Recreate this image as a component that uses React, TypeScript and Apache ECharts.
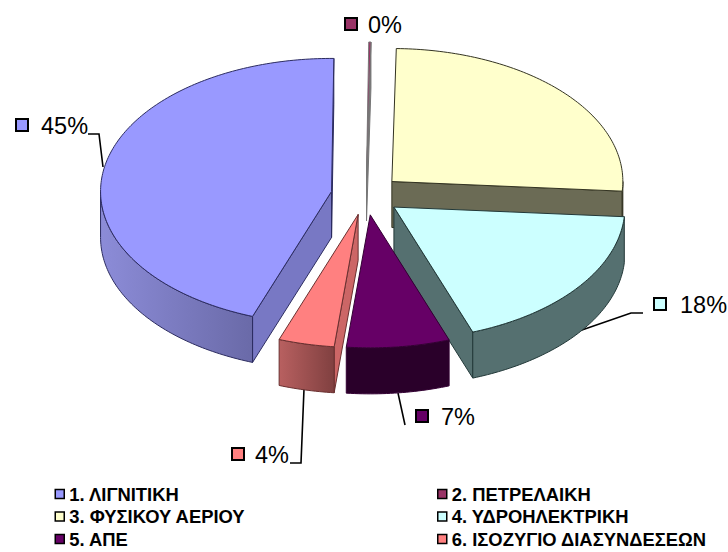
import React, { useEffect, useRef } from "react";
import * as echarts from "echarts";

const categories = ["1. ΛΙΓΝΙΤΙΚΗ", "2. ΠΕΤΡΕΛΑΙΚΗ", "3. ΦΥΣΙΚΟΥ ΑΕΡΙΟΥ", "4. ΥΔΡΟΗΛΕΚΤΡΙΚΗ", "5. ΑΠΕ", "6. ΙΣΟΖΥΓΙΟ ΔΙΑΣΥΝΔΕΣΕΩΝ"];
const shares = [44.6, 0.15, 25.85, 18.3, 7.2, 3.9];
const percentLabels = ["45%", "0%", "26%", "18%", "7%", "4%"];
const topColors = ["#9999ff", "#993366", "#ffffcc", "#ccffff", "#660066", "#ff8080"];
const cutColors = ["#7878c4", "#777777", "#6b6b55", "#557070", "#2a002a", "#cc6666"];
const wallFrom = ["#8c8cd8", "#777777", "#6b6b55", "#557070", "#2a002a", "#b86060"];
const wallTo = ["#6a6aa8", "#777777", "#6b6b55", "#557070", "#2a002a", "#804040"];
const edgeColors = ["#2c2c60", "#777777", "#333322", "#223838", "#330033", "#6a3030"];

const START = 200, CX = 366, CY = 195, RX = 231, RY = 133, DEPTH = 46, EX = 35, EY = 20;
const FONT = "'Liberation Sans', Arial, sans-serif";
const total = shares.reduce((a, b) => a + b, 0);

const labelMarkers = [[22, 125], [351, 24], [501, 116], [660, 304], [422, 416], [238, 454]];
const labelTextX = [41, 368, 520, 680, 441, 255];
const leaders = [
  [[88, 134], [99, 134], [103, 167]],
  [],
  [],
  [[643, 313], [631, 313], [579, 331]],
  [[405, 425], [398, 393]],
  [[290, 463], [301, 463], [304, 389]],
];

const rad = (d: number) => (d * Math.PI) / 180;

function makeItem(index: number) {
  return (_params: any, _api: any) => {
    let a0 = START;
    for (let i = 0; i < index; i++) a0 += (shares[i] / total) * 360;
    const a1 = a0 + (shares[index] / total) * 360;
    const mid = (a0 + a1) / 2;
    const ax = CX + EX * Math.sin(rad(mid));
    const ay = CY - EY * Math.cos(rad(mid));
    const pt = (a: number, d = 0) => [ax + RX * Math.sin(rad(a)), ay - RY * Math.cos(rad(a)) + d];
    const arc = (from: number, to: number, d = 0) => {
      const out: number[][] = [];
      const n = Math.max(1, Math.ceil(Math.abs(to - from)));
      for (let k = 0; k <= n; k++) out.push(pt(from + ((to - from) * k) / n, d));
      return out;
    };
    const stroke = { stroke: edgeColors[index], lineWidth: 1, lineJoin: "round" };
    const children: any[] = [];
    const cut = (a: number) => {
      const p = pt(a);
      children.push({
        type: "polygon",
        shape: { points: [[ax, ay], p, [p[0], p[1] + DEPTH], [ax, ay + DEPTH]] },
        style: { fill: cutColors[index], ...stroke },
      });
    };
    const norm = (a: number) => ((a % 360) + 360) % 360;
    if (norm(a0) > 180) cut(a0);
    if (norm(a1) < 180) cut(a1);
    // outer wall: the part of the rim that faces the viewer
    for (const shift of [0, 360, -360]) {
      const w0 = Math.max(a0 + shift, 90);
      const w1 = Math.min(a1 + shift, 270);
      if (w1 > w0) {
        const pts = [...arc(w0, w1), ...arc(w1, w0, DEPTH)];
        children.push({
          type: "polygon",
          shape: { points: pts },
          style: {
            fill: new echarts.graphic.LinearGradient(0, 0, 1, 0, [
              { offset: 0, color: wallFrom[index] },
              { offset: 1, color: wallTo[index] },
            ]),
            ...stroke,
          },
        });
      }
    }
    children.push({
      type: "polygon",
      shape: { points: [[ax, ay], ...arc(a0, a1)] },
      style: { fill: topColors[index], ...stroke },
    });
    return { type: "group", children };
  };
}

function labelGraphics() {
  const out: any[] = [];
  percentLabels.forEach((t, i) => {
    const [mx, my] = labelMarkers[i];
    out.push({
      type: "rect",
      shape: { x: mx - 6, y: my - 6, width: 12, height: 12 },
      style: { fill: topColors[i], stroke: "#000", lineWidth: 2 },
    });
    out.push({
      type: "text",
      x: labelTextX[i],
      y: my + 1,
      style: { text: t, fill: "#000", font: `23.5px ${FONT}`, textAlign: "left", textVerticalAlign: "middle" },
    });
    if (leaders[i].length) {
      out.push({
        type: "polyline",
        shape: { points: leaders[i] },
        style: { stroke: "#000", lineWidth: 1.6, fill: "none" },
      });
    }
  });
  return out;
}

export default function App() {
  const ref = useRef<HTMLDivElement>(null);
  useEffect(() => {
    document.body.style.margin = "0";
    const chart = echarts.init(ref.current!, undefined, { renderer: "svg" });
    const legendBase = {
      orient: "vertical",
      itemWidth: 9,
      itemHeight: 9,
      itemGap: 4.5,
      top: 485,
      padding: 0,
      selectedMode: false,
      icon: "rect",
      itemStyle: { borderColor: "#000", borderWidth: 1.5 },
      textStyle: { fontFamily: FONT, fontSize: 18.4, fontWeight: "bold", color: "#000" },
    };
    chart.setOption({
      animation: false,
      backgroundColor: "#fff",
      legend: [
        { ...legendBase, left: 54.5, data: [categories[0], categories[2], categories[4]] },
        { ...legendBase, left: 437, data: [categories[1], categories[3], categories[5]] },
      ],
      series: categories.map((name, i) => ({
        type: "custom",
        name,
        coordinateSystem: "none",
        renderItem: makeItem(i),
        itemStyle: { color: topColors[i] },
        silent: true,
        data: [shares[i]],
      })),
      graphic: labelGraphics(),
    });
    return () => chart.dispose();
  }, []);
  return <div ref={ref} style={{ position: "absolute", left: 0, top: 0, width: 728, height: 552 }} />;
}
